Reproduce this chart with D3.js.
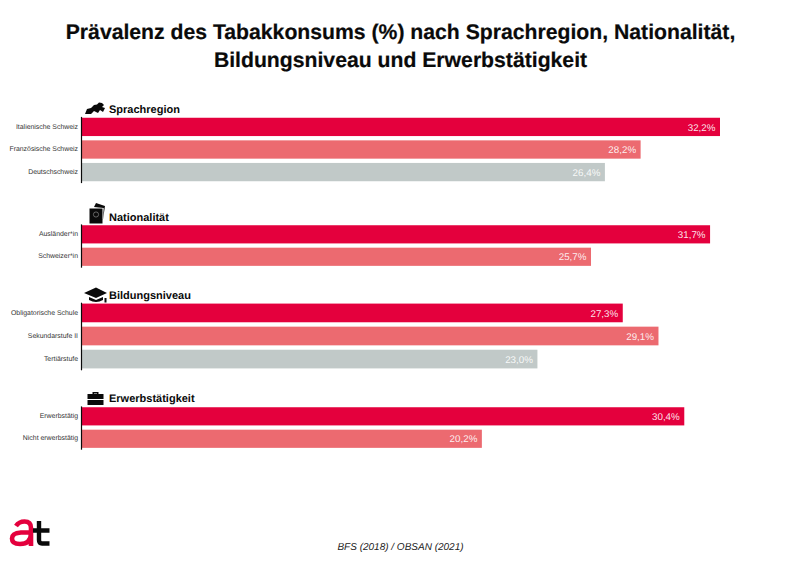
<!DOCTYPE html>
<html lang="de"><head><meta charset="utf-8">
<script src="https://cdn.jsdelivr.net/npm/d3@7"></script>
<style>html,body{margin:0;padding:0;background:#fff}svg{display:block}text{font-family:"Liberation Sans",Arial,sans-serif;text-rendering:geometricPrecision}</style>
</head><body><svg id="c" width="800" height="564"></svg>
<script>
const titleLines = ["Prävalenz des Tabakkonsums (%) nach Sprachregion, Nationalität,", "Bildungsniveau und Erwerbstätigkeit"];
const groupNames = ["Sprachregion", "Nationalität", "Bildungsniveau", "Erwerbstätigkeit"];
const sprachregionLabels = ["Italienische Schweiz", "Französische Schweiz", "Deutschschweiz"];
const sprachregionValues = [32.2, 28.2, 26.4];
const nationalitaetLabels = ["Ausländer*in", "Schweizer*in"];
const nationalitaetValues = [31.7, 25.7];
const bildungLabels = ["Obligatorische Schule", "Sekundarstufe II", "Tertiärstufe"];
const bildungValues = [27.3, 29.1, 23.0];
const erwerbLabels = ["Erwerbstätig", "Nicht erwerbstätig"];
const erwerbValues = [30.4, 20.2];
const sourceText = "BFS (2018) / OBSAN (2021)";

const colors = ["#e4003d", "#ec6a70", "#c1c9c8"];
const groups = [
  {name: groupNames[0], labels: sprachregionLabels, values: sprachregionValues, top: 116.4, bottom: 182.6, head: 109, icon: "swiss"},
  {name: groupNames[1], labels: nationalitaetLabels, values: nationalitaetValues, top: 223.9, bottom: 267.2, head: 216.5, icon: "pass"},
  {name: groupNames[2], labels: bildungLabels, values: bildungValues, top: 302.2, bottom: 369.8, head: 294.5, icon: "cap"},
  {name: groupNames[3], labels: erwerbLabels, values: erwerbValues, top: 405.9, bottom: 449.2, head: 398, icon: "case"}
];
const svg = d3.select("#c");
const x = d3.scaleLinear().domain([0, 32.2]).range([81, 720]);

svg.selectAll("text.title").data(titleLines).join("text").attr("class","title")
  .attr("x", 400.5).attr("y", (d,i)=>39+i*27.5).attr("text-anchor","middle")
  .attr("font-size", 21.2).attr("font-weight", 700).attr("fill","#0a0a0a").attr("stroke","#0a0a0a").attr("stroke-width",0.2).text(d=>d);

const icons = {
  swiss: "M85 114 L87 109 L91 108 L94 105 L97 104.5 L99 102.5 L102 103 L104 105 L102 107 L105 108 L103 112 L100 110 L98 113 L94 111 L91 114 Z",
  pass: "M89.5 208.5 L102.5 208.5 L102.5 223.5 L89.5 223.5 Z M96 209.5 L102 205 Z M94 207 L96 203 L105 206 L102.9 220 L103.7 208 Z",
  cap: "M84 293 L96 287.5 L107 293 L96 298 Z M89 297 L96 300 L103 297 L103 300 Q96 304 89 300 Z M104.5 298 H106.5 V302.5 H104.5 Z",
  case: "M87.5 394 H103.5 V399 H87.5 Z M87.5 400 H103.5 V405 H87.5 Z M92.5 394 V392 H98.5 V394 H97 V393.4 H94 V394 Z"
};

groups.forEach(g => {
  const y = d3.scaleBand().domain(g.labels).range([g.top, g.bottom]).paddingInner(0.19).paddingOuter(0.06);
  const gr = svg.append("g");
  gr.append("path").attr("d", icons[g.icon]).attr("fill","#0a0a0a").attr("fill-rule","evenodd");
  if (g.icon === "pass") gr.append("circle").attr("cx",96).attr("cy",214.5).attr("r",2.6).attr("fill","none").attr("stroke","#888").attr("stroke-width",0.7);
  gr.append("text").attr("x",109).attr("y",g.head+4.1).attr("font-size",11).attr("font-weight",700).attr("fill","#0a0a0a").text(g.name);
  gr.selectAll("rect").data(g.values).join("rect")
    .attr("x", x(0)).attr("y",(d,i)=>y(g.labels[i])).attr("width",d=>x(d)-x(0)).attr("height",y.bandwidth())
    .attr("fill",(d,i)=>colors[i]);
  gr.selectAll("text.v").data(g.values).join("text").attr("class","v")
    .attr("x",d=>x(d)-4.5).attr("y",(d,i)=>y(g.labels[i])+y.bandwidth()/2+3.6).attr("text-anchor","end")
    .attr("font-size",9.8).attr("fill","#fff").attr("fill-opacity",0.9).text(d=>d3.format(".1f")(d).replace(".",",")+"%");
  gr.selectAll("text.l").data(g.labels).join("text").attr("class","l")
    .attr("x",78).attr("y",d=>y(d)+y.bandwidth()/2+1.6).attr("text-anchor","end")
    .attr("font-size",6.9).attr("fill","#333").text(d=>d);
  const axis = d3.axisLeft(y).tickSize(0).tickFormat("");
  const ag = gr.append("g").attr("transform",`translate(81,0)`).call(axis);
  ag.select(".domain").attr("stroke","#0a0a0a").attr("stroke-width",1.2);
});

// Logo
const logo = svg.append("g");
logo.append("path").attr("d","M16 526 Q19 521.5 24.5 521.5 Q31 521.5 31 528 V546 M31 532.5 H21 Q12 533 12 538.5 Q12 544 20 544 Q31 544 31 533")
  .attr("fill","none").attr("stroke","#e4003d").attr("stroke-width",4.6);
logo.append("path").attr("d","M39 521 V540 Q39 543.5 42 543.5 H49.5 M33 530.5 H49.5")
  .attr("fill","none").attr("stroke","#0a0a0a").attr("stroke-width",4.4);

svg.append("text").attr("x",400.5).attr("y",550).attr("text-anchor","middle").attr("font-size",10)
  .attr("font-style","italic").attr("fill","#222").text(sourceText);
</script></body></html>
